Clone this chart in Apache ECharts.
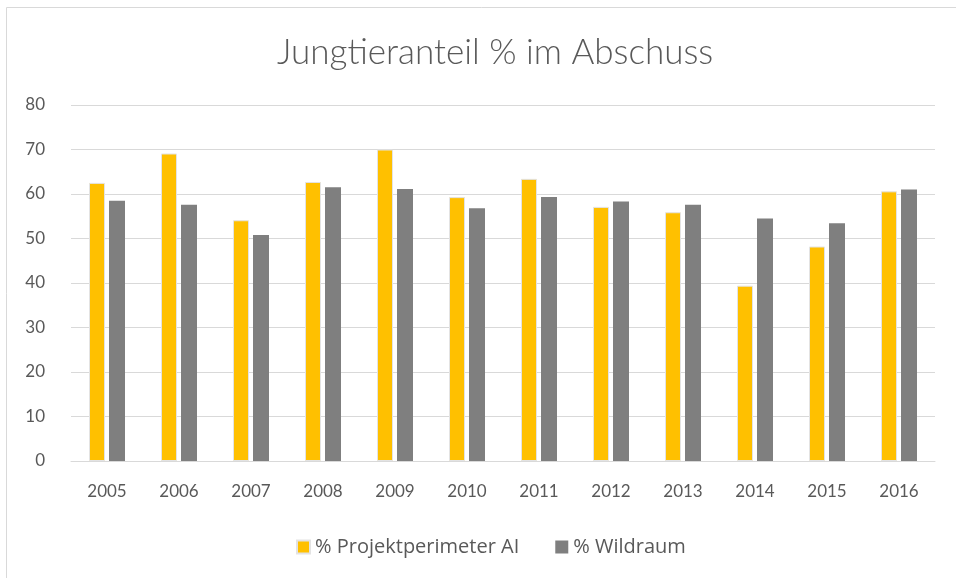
<!DOCTYPE html>
<html><head><meta charset="utf-8">
<script src="https://cdn.jsdelivr.net/npm/echarts@6/dist/echarts.min.js"></script>
<style>html,body{margin:0;padding:0;background:#fff}#c{width:956px;height:578px}</style>
</head><body><div id="c"></div>
<script>
const titleText = 'Jungtieranteil % im Abschuss';
const years = ['2005','2006','2007','2008','2009','2010','2011','2012','2013','2014','2015','2016'];
const projekt = [62.5, 69.1, 54.1, 62.7, 70.0, 59.3, 63.4, 57.1, 55.9, 39.4, 48.2, 60.6];
const wildraum = [58.5, 57.6, 50.8, 61.5, 61.1, 56.8, 59.3, 58.3, 57.6, 54.5, 53.4, 61.0];
const seriesNames = ['% Projektperimeter AI', '% Wildraum'];
const yTicks = {min: 0, max: 80, interval: 10};

const font = 'Lato, "Open Sans", sans-serif';
const chart = echarts.init(document.getElementById('c'));
chart.setOption({
  animation: false,
  graphic: [{type:'rect', shape:{x:6.5,y:7.5,width:1000,height:1000}, style:{fill:'none', stroke:'#d9d9d9', lineWidth:1}, silent:true}],
  title: {text: titleText, left: 272, top: 30, textStyle:{fontFamily: font, fontWeight: 300, fontSize: 35, color:'#595959'}},
  legend: {top: 532, left: 291, itemWidth: 13, itemHeight: 13, itemGap: 36,
    textStyle:{fontFamily: '"Open Sans", sans-serif', fontSize: 20, color:'#595959'},
    data: seriesNames.map(n=>({name:n, icon:'rect'}))},
  grid: {left: 71, right: 21, top: 105, bottom: 117, containLabel:false},
  xAxis: {type:'category', data: years,
    axisLine:{lineStyle:{color:'#d9d9d9'}}, axisTick:{show:false},
    axisLabel:{fontFamily: font, fontSize: 17, color:'#595959', margin: 22}},
  yAxis: {type:'value', min: yTicks.min, max: yTicks.max, interval: yTicks.interval,
    axisLine:{show:false}, axisTick:{show:false},
    splitLine:{lineStyle:{color:'#d9d9d9', width:1}},
    axisLabel:{fontFamily: font, fontSize: 17, color:'#595959', margin: 26}},
  series: [
    {name: seriesNames[0], type:'bar', data: projekt, barWidth: 16, barGap: '25%',
      itemStyle:{color:'#FFC000', borderColor:'#e3e3e3', borderWidth:1}},
    {name: seriesNames[1], type:'bar', data: wildraum, barWidth: 16,
      itemStyle:{color:'#7F7F7F', borderColor:'#e3e3e3', borderWidth:0}}
  ]
});
</script></body></html>
